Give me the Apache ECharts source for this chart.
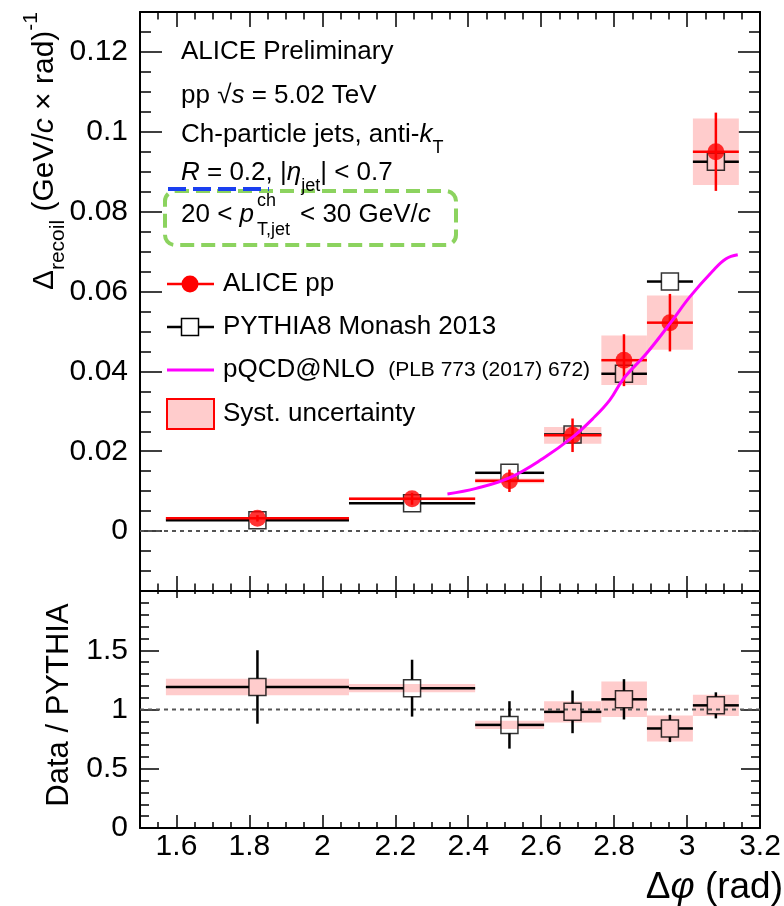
<!DOCTYPE html>
<html><head><meta charset="utf-8">
<script src="https://cdn.jsdelivr.net/npm/echarts@6/dist/echarts.min.js"></script>
<style>html,body{margin:0;padding:0;background:#fff;}#c{width:784px;height:906px;}</style>
</head><body><div id="c"></div>
<script>
// ---- data ----
const binLo     = [1.571, 2.073, 2.419, 2.608, 2.765, 2.890, 3.016];
const binHi     = [2.073, 2.419, 2.608, 2.765, 2.890, 3.016, 3.142];
const binCenter = [1.822, 2.246, 2.513, 2.686, 2.827, 2.953, 3.079];

const aliceY    = [0.0032, 0.0081, 0.0126, 0.0240, 0.0428, 0.0522, 0.0950];
const aliceStat = [0.0008, 0.0015, 0.0028, 0.0042, 0.0065, 0.0072, 0.0098];
const aliceSyst = [0.0003, 0.0004, 0.0006, 0.0021, 0.0062, 0.0068, 0.0083];
const pythiaY   = [0.0027, 0.0070, 0.0146, 0.0242, 0.0394, 0.0625, 0.0925];

const ratioY    = [1.19, 1.18, 0.87, 0.98, 1.086, 0.84, 1.035];
const ratioStat = [0.31, 0.24, 0.20, 0.18, 0.17, 0.115, 0.11];
const ratioSyst = [0.07, 0.035, 0.035, 0.09, 0.15, 0.11, 0.09];

const nloX = [2.343, 2.422, 2.514, 2.605, 2.687, 2.742, 2.788, 2.826, 2.888, 2.955, 3.007, 3.071, 3.107, 3.139];
const nloY = [0.0093, 0.0107, 0.0134, 0.0182, 0.0236, 0.0282, 0.0328, 0.0382, 0.0444, 0.0522, 0.0586, 0.0652, 0.0682, 0.0692];

const xTickLabels    = ['1.6','1.8','2','2.2','2.4','2.6','2.8','3','3.2'];
const yTopTickLabels = ['0','0.02','0.04','0.06','0.08','0.1','0.12'];
const yBotTickLabels = ['0','0.5','1','1.5'];

const X_MIN = 1.5, X_MAX = 3.2;
const YT_MIN = -0.015, YT_MAX = 0.13;
const YB_MIN = 0, YB_MAX = 2;

const FONT = 'Liberation Sans';
const chart = echarts.init(document.getElementById('c'), null, {renderer:'canvas'});

function fmt(labels){
  return v => { const s = String(+(+v).toFixed(3)); return labels.indexOf(s) >= 0 ? s : ''; };
}
function tick(len){ return {show:true, inside:true, length:len, lineStyle:{color:'#000', width:1.5}}; }
const frameLine = {show:true, onZero:false, lineStyle:{color:'#000', width:2}};
const noLine = {show:false, onZero:false};

function xAxes(grid, labels, bMaj, bMin, tMaj, tMin){
  const base = {gridIndex:grid, type:'value', min:X_MIN, max:X_MAX, splitLine:{show:false}};
  return [
    Object.assign({}, base, {position:'bottom', interval:0.05, axisLine:frameLine, axisTick:tick(bMin),
      axisLabel: labels ? {show:true, formatter:fmt(xTickLabels), fontSize:30, fontFamily:FONT, color:'#000', margin:4} : {show:false}}),
    Object.assign({}, base, {position:'bottom', splitNumber:8, axisLine:noLine, axisTick:tick(bMaj), axisLabel:{show:false}}),
    Object.assign({}, base, {position:'top', interval:0.05, axisLine:frameLine, axisTick:tick(tMin), axisLabel:{show:false}}),
    Object.assign({}, base, {position:'top', splitNumber:8, axisLine:noLine, axisTick:tick(tMaj), axisLabel:{show:false}})
  ];
}
function yAxes(grid, min, max, minorInt, majOpt, labels, maj, mnr){
  const base = {gridIndex:grid, type:'value', min, max, splitLine:{show:false}};
  return [
    Object.assign({}, base, {position:'left', interval:minorInt, axisLine:frameLine, axisTick:tick(mnr),
      axisLabel:{show:true, formatter:fmt(labels), fontSize:30, fontFamily:FONT, color:'#000', margin:12}}),
    Object.assign({}, base, majOpt, {position:'left', axisLine:noLine, axisTick:tick(maj), axisLabel:{show:false}}),
    Object.assign({}, base, {position:'right', interval:minorInt, axisLine:frameLine, axisTick:tick(mnr), axisLabel:{show:false}}),
    Object.assign({}, base, majOpt, {position:'right', axisLine:noLine, axisTick:tick(maj), axisLabel:{show:false}})
  ];
}

function boxRender(color){
  return function(params, api){
    const a = api.coord([api.value(0), api.value(3)]);
    const b = api.coord([api.value(1), api.value(2)]);
    return {type:'rect', shape:{x:a[0], y:a[1], width:b[0]-a[0], height:b[1]-a[1]}, style:{fill:color}};
  };
}
function barRender(color, gap, withV){
  return function(params, api){
    const lo = api.value(0), hi = api.value(1), c = api.value(2), y = api.value(3), e = api.value(4);
    const pL = api.coord([lo, y]), pR = api.coord([hi, y]), pC = api.coord([c, y]);
    const pT = api.coord([c, y + e]), pB = api.coord([c, y - e]);
    const st = {stroke:color, lineWidth:2.5};
    const ch = [
      {type:'line', shape:{x1:pL[0], y1:pL[1], x2:pC[0]-gap, y2:pC[1]}, style:st},
      {type:'line', shape:{x1:pC[0]+gap, y1:pC[1], x2:pR[0], y2:pR[1]}, style:st}
    ];
    if (withV && pC[1] - pT[1] > gap) {
      ch.push({type:'line', shape:{x1:pC[0], y1:pT[1], x2:pC[0], y2:pC[1]-gap}, style:st});
      ch.push({type:'line', shape:{x1:pC[0], y1:pC[1]+gap, x2:pC[0], y2:pB[1]}, style:st});
    }
    return {type:'group', children:ch};
  };
}
function refRender(params, api){
  const a = api.coord([api.value(0), api.value(2)]);
  const b = api.coord([api.value(1), api.value(2)]);
  return {type:'line', shape:{x1:a[0], y1:a[1], x2:b[0], y2:b[1]}, style:{stroke:'#555', lineWidth:2, lineDash:[4,4]}};
}

const series = [
  // top panel
  {type:'custom', xAxisIndex:0, yAxisIndex:0, z:2, renderItem:boxRender('#ffcccc'), encode:{x:[0,1], y:[2,3]},
    data: binLo.map((lo,i)=>[lo, binHi[i], aliceY[i]-aliceSyst[i], aliceY[i]+aliceSyst[i]])},
  {type:'custom', xAxisIndex:0, yAxisIndex:0, z:3, renderItem:refRender, encode:{x:[0,1], y:[2]},
    data:[[X_MIN, X_MAX, 0]]},
  {type:'custom', xAxisIndex:0, yAxisIndex:0, z:4, renderItem:barRender('#000', 8.5, false), encode:{x:[0,1,2], y:[3]},
    data: binLo.map((lo,i)=>[lo, binHi[i], binCenter[i], pythiaY[i], 0])},
  {type:'scatter', xAxisIndex:0, yAxisIndex:0, z:5, symbol:'rect', symbolSize:17, silent:true,
    itemStyle:{color:'rgba(255,255,255,0)', borderColor:'#000', borderWidth:1.5},
    data: binCenter.map((c,i)=>[c, pythiaY[i]])},
  {type:'custom', xAxisIndex:0, yAxisIndex:0, z:6, renderItem:barRender('#ff0000', 0, true), encode:{x:[0,1,2], y:[3]},
    data: binLo.map((lo,i)=>[lo, binHi[i], binCenter[i], aliceY[i], aliceStat[i]])},
  {type:'scatter', xAxisIndex:0, yAxisIndex:0, z:7, symbol:'circle', symbolSize:17, silent:true,
    itemStyle:{color:'#ff0000'}, data: binCenter.map((c,i)=>[c, aliceY[i]])},
  {type:'line', xAxisIndex:0, yAxisIndex:0, z:8, smooth:0.4, showSymbol:false, symbol:'none', silent:true,
    lineStyle:{color:'#ff00ff', width:3}, data: nloX.map((x,i)=>[x, nloY[i]])},
  // bottom panel
  {type:'custom', xAxisIndex:4, yAxisIndex:4, z:2, renderItem:boxRender('#ffcccc'), encode:{x:[0,1], y:[2,3]},
    data: binLo.map((lo,i)=>[lo, binHi[i], ratioY[i]-ratioSyst[i], ratioY[i]+ratioSyst[i]])},
  {type:'custom', xAxisIndex:4, yAxisIndex:4, z:3, renderItem:refRender, encode:{x:[0,1], y:[2]},
    data:[[X_MIN, X_MAX, 1]]},
  {type:'custom', xAxisIndex:4, yAxisIndex:4, z:4, renderItem:barRender('#000', 8.5, true), encode:{x:[0,1,2], y:[3]},
    data: binLo.map((lo,i)=>[lo, binHi[i], binCenter[i], ratioY[i], ratioStat[i]])},
  {type:'scatter', xAxisIndex:4, yAxisIndex:4, z:5, symbol:'rect', symbolSize:17, silent:true,
    itemStyle:{color:'rgba(255,255,255,0)', borderColor:'#000', borderWidth:1.5},
    data: binCenter.map((c,i)=>[c, ratioY[i]])}
];

function rich(size, subSize, lh){
  return {
    i:   {fontSize:size, fontFamily:FONT, fontStyle:'italic', fill:'#000', lineHeight:lh},
    n:   {fontSize:size, fontFamily:FONT, fill:'#000', lineHeight:lh},
    sub: {fontSize:subSize, fontFamily:FONT, fill:'#000', verticalAlign:'bottom', lineHeight:subSize},
    sup: {fontSize:subSize, fontFamily:FONT, fill:'#000', verticalAlign:'top', lineHeight:subSize},
    sm:  {fontSize:21, fontFamily:FONT, fill:'#000', lineHeight:lh}
  };
}
function txt(x, y, text, size, extra){
  return {type:'text', x, y, silent:true, z:100,
    style:Object.assign({text, fill:'#000', fontSize:size, fontFamily:FONT, align:'left', verticalAlign:'middle',
      lineHeight:44, rich:rich(size, 18, 44)}, extra || {})};
}

const graphic = [
  txt(181, 52, 'ALICE Preliminary', 26),
  txt(181, 96, 'pp \u221A{i|s} = 5.02 TeV', 26),
  txt(181, 135, 'Ch-particle jets, anti-{i|k}{sub|T}', 26),
  txt(181, 173, '{i|R} = 0.2, |{i|\u03B7}{sub|jet}| < 0.7', 26),
  {type:'rect', z:99, silent:true, shape:{x:165, y:191, width:291, height:54, r:10},
    style:{fill:'none', stroke:'#8cd35f', lineWidth:4, lineDash:[14,7]}},
  {type:'line', z:101, silent:true, shape:{x1:168, y1:189, x2:269, y2:189},
    style:{stroke:'#1a3ff0', lineWidth:4, lineDash:[18,7]}},
  txt(181, 215, '20 < {i|p}', 26),
  txt(257, 201, 'ch', 18),
  txt(257, 230, 'T,jet', 18),
  txt(300, 215, '< 30 GeV/{i|c}', 26),
  // legend
  {type:'line', z:100, silent:true, shape:{x1:167, y1:284, x2:214, y2:284}, style:{stroke:'#ff0000', lineWidth:2.5}},
  {type:'circle', z:101, silent:true, shape:{cx:190, cy:284, r:8.5}, style:{fill:'#ff0000'}},
  txt(223, 284, 'ALICE pp', 26),
  {type:'line', z:100, silent:true, shape:{x1:167, y1:327, x2:214, y2:327}, style:{stroke:'#000', lineWidth:2.5}},
  {type:'rect', z:101, silent:true, shape:{x:181.5, y:318.5, width:17, height:17}, style:{fill:'#fff', stroke:'#000', lineWidth:1.5}},
  txt(223, 327, 'PYTHIA8 Monash 2013', 26),
  {type:'line', z:100, silent:true, shape:{x1:167, y1:370, x2:214, y2:370}, style:{stroke:'#ff00ff', lineWidth:3}},
  txt(223, 370, 'pQCD@NLO {sm| (PLB 773 (2017) 672)}', 26),
  {type:'rect', z:100, silent:true, shape:{x:167, y:399, width:47, height:30}, style:{fill:'#ffcccc', stroke:'#ff0000', lineWidth:2}},
  txt(223, 414, 'Syst. uncertainty', 26),
  // axis titles
  {type:'text', x:45, y:12, rotation:Math.PI/2, silent:true, z:100,
    style:{text:'\u0394{sub|recoil} (GeV/{i|c} \u00D7 rad){sup|-1}', fill:'#000', fontSize:30, fontFamily:FONT,
      align:'right', verticalAlign:'middle', lineHeight:48, rich:rich(30, 21, 48)}},
  {type:'text', x:59, y:705, rotation:Math.PI/2, silent:true, z:100,
    style:{text:'Data / PYTHIA', fill:'#000', fontSize:31, fontFamily:FONT, align:'center', verticalAlign:'middle'}},
  {type:'text', x:783, y:888, silent:true, z:100,
    style:{text:'\u0394{i|\u03C6} (rad)', fill:'#000', fontSize:37, fontFamily:FONT, align:'right', verticalAlign:'middle',
      lineHeight:46, rich:rich(37, 22, 46)}}
];

const option = {
  animation:false,
  backgroundColor:'#fff',
  grid:[
    {left:140, top:12, width:620, height:579},
    {left:140, top:591, width:620, height:237}
  ],
  xAxis: [].concat(
    xAxes(0, false, 15, 7.5, 15, 7.5),
    xAxes(1, true, 13, 6, 7, 3)
  ),
  yAxis: [].concat(
    yAxes(0, YT_MIN, YT_MAX, 0.005, {splitNumber:7}, yTopTickLabels, 22, 11),
    yAxes(1, YB_MIN, YB_MAX, 0.1, {interval:0.5}, yBotTickLabels, 19, 9)
  ),
  series,
  graphic
};
chart.setOption(option);
</script>
</body></html>
